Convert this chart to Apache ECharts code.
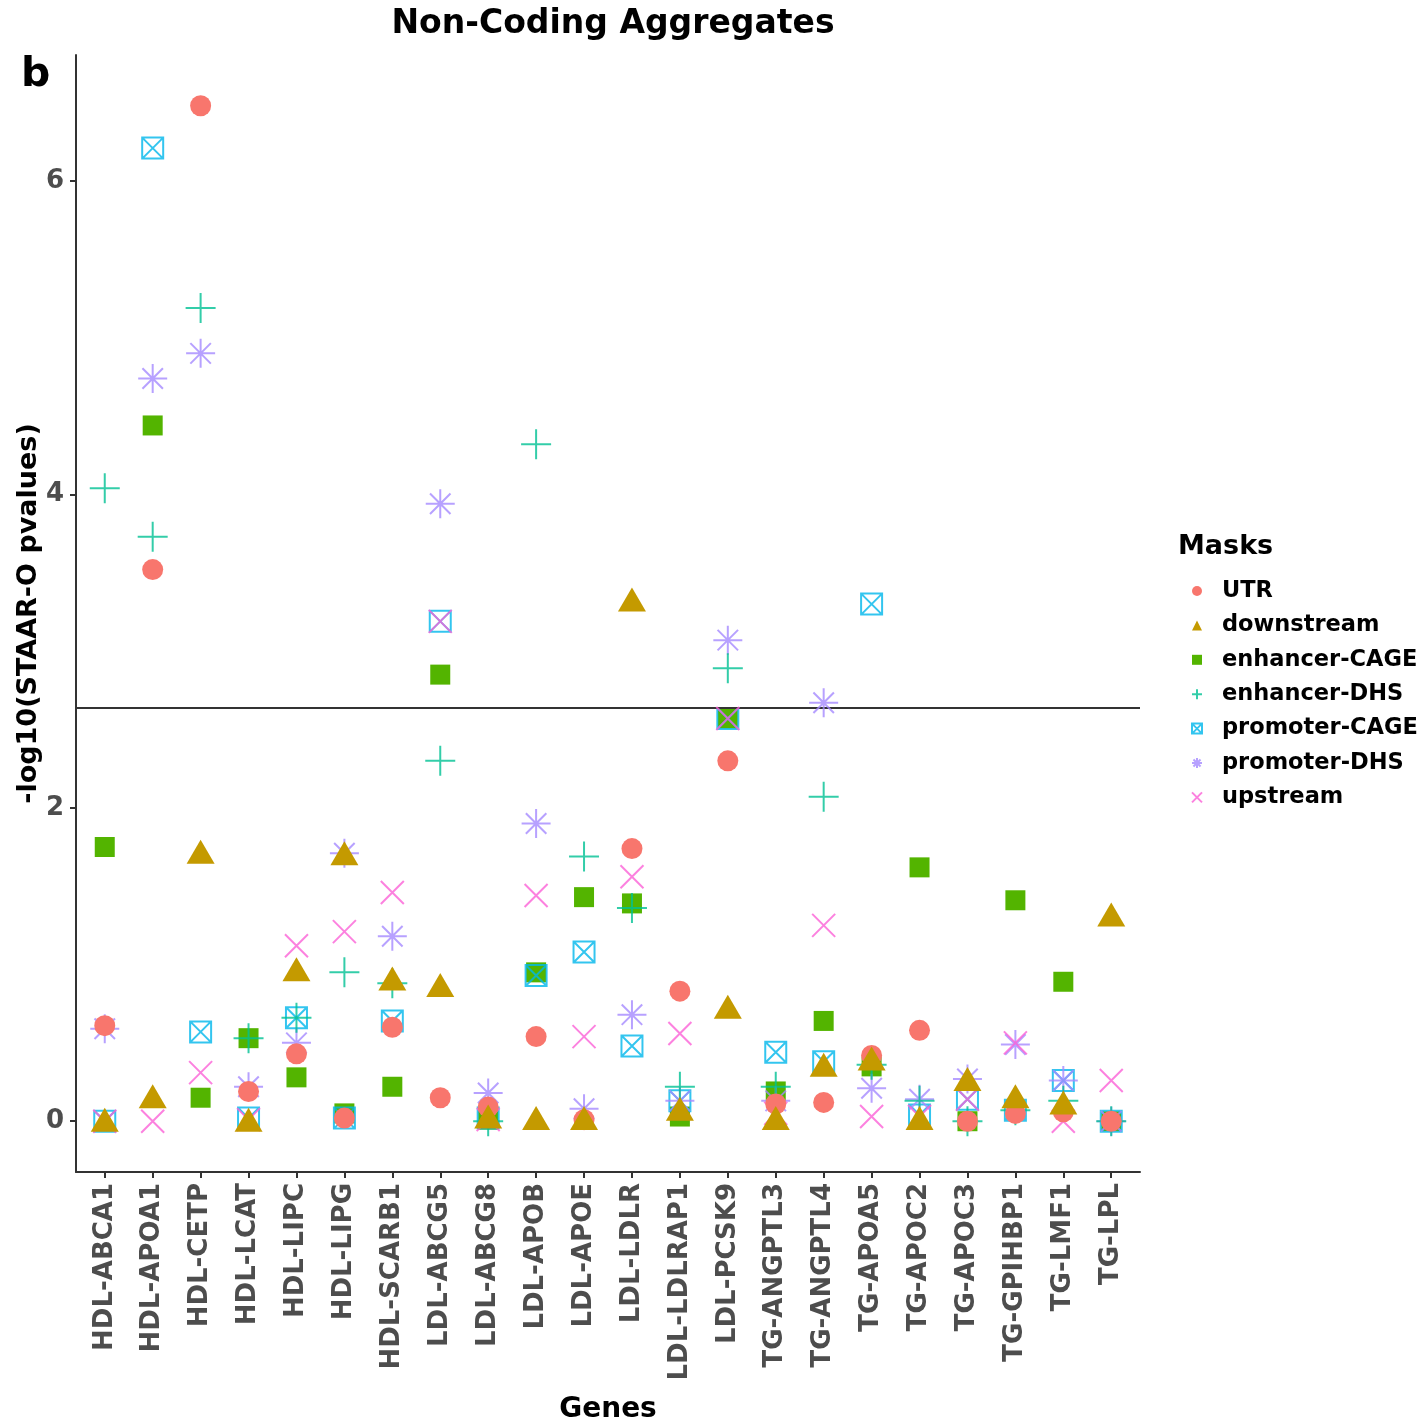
<!DOCTYPE html>
<html>
<head>
<meta charset="utf-8">
<title>Non-Coding Aggregates</title>
<script src="https://cdn.jsdelivr.net/npm/echarts@6/dist/echarts.min.js"></script>
<style>
  html, body { margin: 0; padding: 0; background: #ffffff; }
  #chart { width: 1421px; height: 1424px; }
</style>
</head>
<body>
<div id="chart"></div>
<script>
// Genes (trait-gene pairs) on the x axis
const genes = ['HDL-ABCA1', 'HDL-APOA1', 'HDL-CETP', 'HDL-LCAT', 'HDL-LIPC', 'HDL-LIPG',
  'HDL-SCARB1', 'LDL-ABCG5', 'LDL-ABCG8', 'LDL-APOB', 'LDL-APOE', 'LDL-LDLR',
  'LDL-LDLRAP1', 'LDL-PCSK9', 'TG-ANGPTL3', 'TG-ANGPTL4', 'TG-APOA5', 'TG-APOC2',
  'TG-APOC3', 'TG-GPIHBP1', 'TG-LMF1', 'TG-LPL'];

// -log10(STAAR-O p) per mask, one value per gene
const utr          = [0.61, 3.52, 6.48, 0.19, 0.43, 0.02, 0.60, 0.15, 0.09, 0.54, 0.01, 1.74, 0.83, 2.30, 0.11, 0.12, 0.42, 0.58, 0.00, 0.05, 0.06, 0.00];
const downstream   = [0.01, 0.16, 1.72, 0.01, 0.97, 1.71, 0.91, 0.87, 0.03, 0.02, 0.02, 3.33, 0.08, 0.73, 0.02, 0.36, 0.40, 0.02, 0.27, 0.16, 0.12, 1.32];
const enhancerCage = [1.75, 4.44, 0.15, 0.53, 0.28, 0.05, 0.22, 2.85, 0.01, 0.95, 1.43, 1.39, 0.03, 2.57, 0.19, 0.64, 0.35, 1.62, 0.00, 1.41, 0.89, 0.00];
const enhancerDhs  = [4.04, 3.73, 5.19, 0.53, 0.66, 0.95, 0.88, 2.30, 0.00, 4.32, 1.69, 1.36, 0.22, 2.89, 0.22, 2.07, 0.36, 0.13, 0.00, 0.07, 0.13, 0.00];
const promoterCage = [0.00, 6.21, 0.57, 0.02, 0.66, 0.02, 0.64, 3.19, 0.02, 0.93, 1.08, 0.48, 0.13, 2.57, 0.44, 0.38, 3.30, 0.04, 0.14, 0.07, 0.26, 0.00];
const promoterDhs  = [0.59, 4.74, 4.90, 0.22, 0.50, 1.71, 1.18, 3.94, 0.18, 1.90, 0.08, 0.68, 0.13, 3.07, 0.13, 2.67, 0.21, 0.14, 0.27, 0.49, 0.26, 0.00];
const upstream     = [0.00, 0.00, 0.31, 0.01, 1.12, 1.21, 1.46, 3.19, 0.01, 1.44, 0.54, 1.56, 0.56, 2.57, 0.05, 1.25, 0.03, 0.03, 0.14, 0.50, 0.00, 0.26];

// y-axis tick labels and the significance cut-off line
const yTicks = [0, 2, 4, 6];
const threshold = 2.64;

// Stroke-only marker outlines
const PLUS = 'path://M15,0V30M0,15H30';
const CROSS = 'path://M0,0L30,30M30,0L0,30';
const STAR = 'path://M15,0V30M0,15H30M4.4,4.4L25.6,25.6M25.6,4.4L4.4,25.6';
const BOXCROSS = 'path://M0,0H30V30H0ZM0,0L30,30M30,0L0,30';

const FONT = 'DejaVu Sans';

function pts(values) {
  return values.map((v, i) => [i, v]);
}

function filledSeries(name, values, color, symbol, size, z) {
  return {
    name, type: 'scatter', data: pts(values), symbol, symbolSize: size, z,
    itemStyle: { color, opacity: 1 },
    emphasis: { disabled: true }
  };
}

function strokeSeries(name, values, color, symbol, size, z) {
  return {
    name, type: 'scatter', data: pts(values), symbol, symbolSize: size, z,
    itemStyle: { color: 'rgba(0,0,0,0)', borderColor: color, borderWidth: 2, opacity: 0.8 },
    emphasis: { disabled: true }
  };
}

const series = [
  filledSeries('enhancer-CAGE', enhancerCage, '#53B400', 'rect', 20, 3),
  strokeSeries('promoter-CAGE', promoterCage, '#00B6EB', BOXCROSS, 21, 4),
  strokeSeries('promoter-DHS', promoterDhs, '#A58AFF', STAR, 29, 5),
  strokeSeries('enhancer-DHS', enhancerDhs, '#00C094', PLUS, 30, 6),
  strokeSeries('upstream', upstream, '#FB61D7', CROSS, 23, 7),
  filledSeries('UTR', utr, '#F8766D', 'circle', 21, 8),
  filledSeries('downstream', downstream, '#C49A00', 'triangle', [28, 24], 9)
];

// Horizontal significance line
series[0].markLine = {
  silent: true,
  symbol: 'none',
  label: { show: false },
  lineStyle: { color: '#333333', width: 2, type: 'solid' },
  data: [{ yAxis: threshold }]
};

const legendOrder = ['UTR', 'downstream', 'enhancer-CAGE', 'enhancer-DHS', 'promoter-CAGE', 'promoter-DHS', 'upstream'];

const chart = echarts.init(document.getElementById('chart'), null, { renderer: 'canvas' });
chart.setOption({
  animation: false,
  backgroundColor: '#ffffff',
  textStyle: { fontFamily: FONT },
  title: [
    {
      text: 'Non-Coding Aggregates',
      left: 608, top: 3, textAlign: 'center',
      textStyle: { fontFamily: FONT, fontWeight: 'bold', fontSize: 33, color: '#000000' }
    },
    {
      text: 'b',
      left: 16, top: 50,
      textStyle: { fontFamily: FONT, fontWeight: 'bold', fontSize: 41, color: '#000000' }
    },
    {
      text: 'Masks',
      left: 1173, top: 528,
      textStyle: { fontFamily: FONT, fontWeight: 'bold', fontSize: 27, color: '#000000' }
    }
  ],
  legend: {
    data: legendOrder,
    orient: 'vertical',
    left: 1186, top: 574,
    itemWidth: 10, itemHeight: 10,
    itemGap: 10.4,
    selectedMode: false,
    textStyle: {
      fontFamily: FONT, fontWeight: 'bold', fontSize: 22.5, color: '#000000',
      lineHeight: 24, padding: [0, 0, 0, 15]
    }
  },
  grid: { left: 76, right: 281, top: 55, bottom: 252, containLabel: false, outerBoundsMode: 'none' },
  xAxis: {
    type: 'value',
    min: -0.6, max: 21.6,
    name: 'Genes',
    nameLocation: 'middle',
    nameGap: 224,
    nameMoveOverlap: false,
    nameTextStyle: { fontFamily: FONT, fontWeight: 'bold', fontSize: 28, color: '#000000' },
    splitLine: { show: false },
    axisLine: { show: true, onZero: false, lineStyle: { color: '#333333', width: 2 } },
    axisTick: { show: true, length: 6, lineStyle: { color: '#333333', width: 2 }, customValues: genes.map((g, i) => i) },
    axisLabel: {
      rotate: 90, margin: 11,
      fontFamily: FONT, fontWeight: 'bold', fontSize: 26, color: '#4D4D4D',
      customValues: genes.map((g, i) => i),
      formatter: v => genes[Math.round(v)] || ''
    }
  },
  yAxis: {
    type: 'value',
    min: -0.324, max: 6.804,
    name: '-log10(STAAR-O pvalues)',
    nameLocation: 'middle',
    nameGap: 34,
    nameMoveOverlap: false,
    nameTextStyle: { fontFamily: FONT, fontWeight: 'bold', fontSize: 27, color: '#000000' },
    splitLine: { show: false },
    axisLine: { show: true, onZero: false, lineStyle: { color: '#333333', width: 2 } },
    axisTick: { show: true, length: 6, lineStyle: { color: '#333333', width: 2 }, customValues: yTicks },
    axisLabel: {
      margin: 12,
      fontFamily: FONT, fontWeight: 'bold', fontSize: 26, color: '#4D4D4D',
      customValues: yTicks
    }
  },
  series
});
</script>
</body>
</html>
